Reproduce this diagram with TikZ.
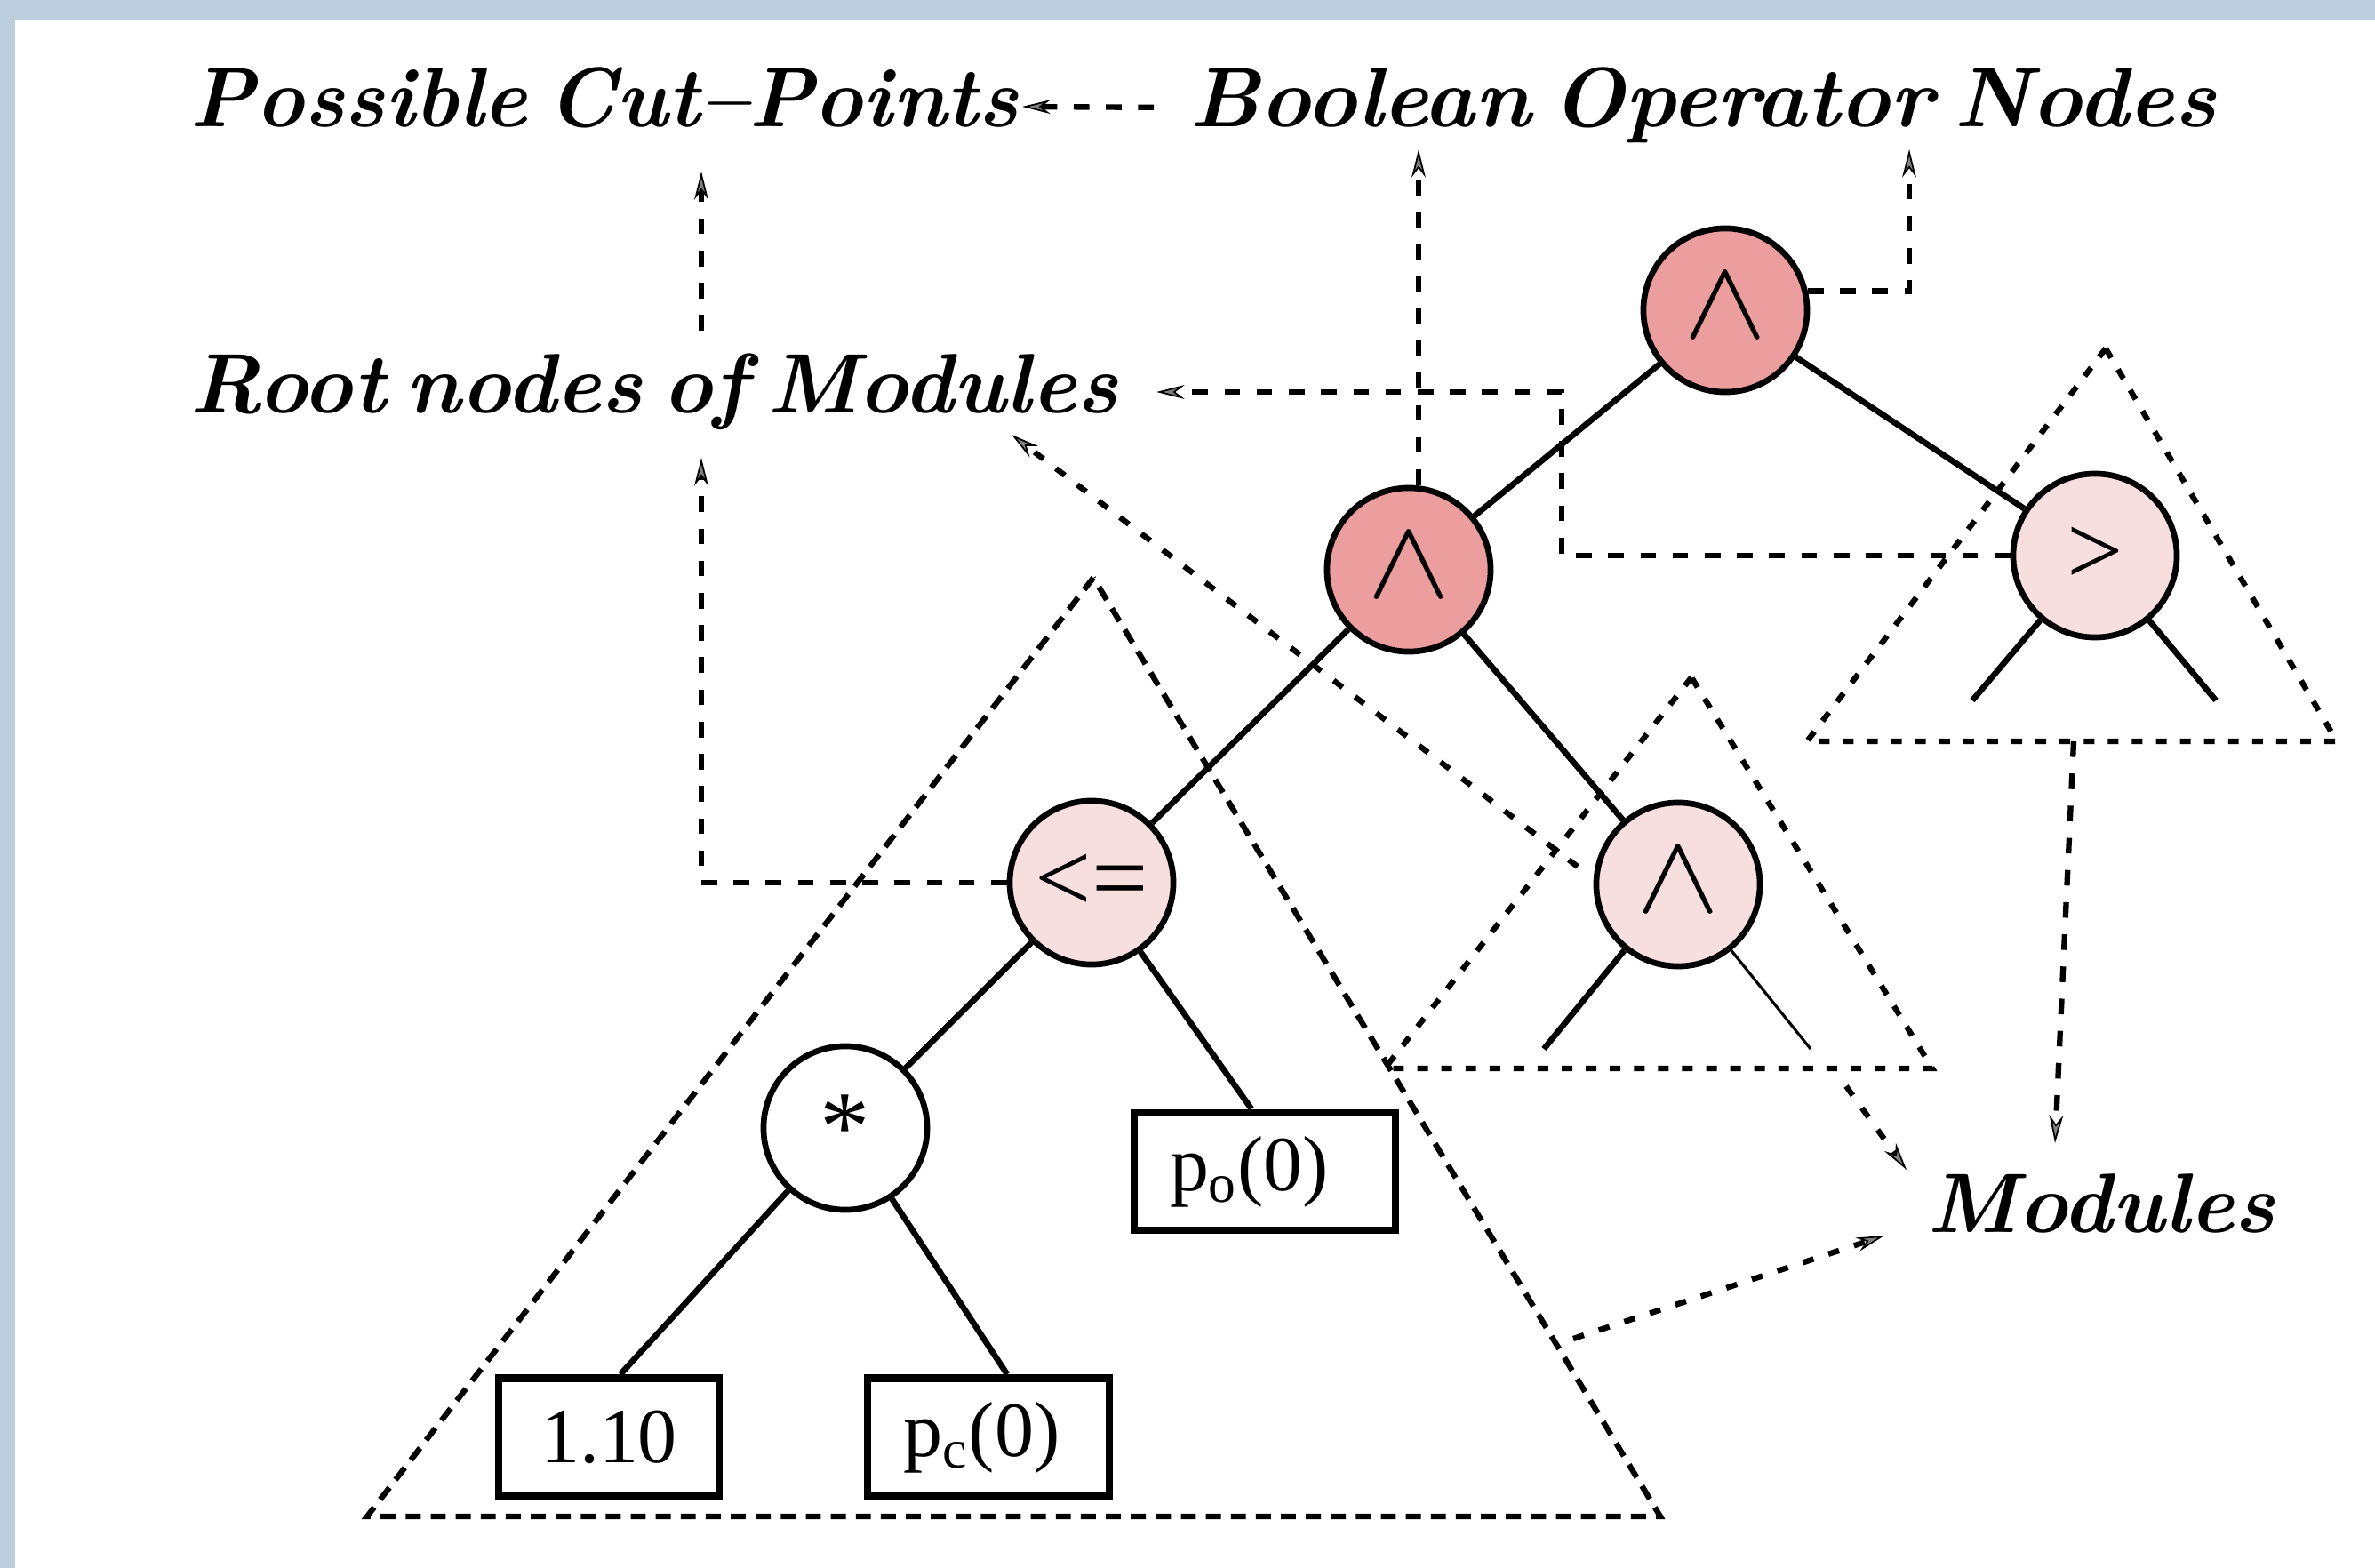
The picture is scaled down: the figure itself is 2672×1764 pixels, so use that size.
\documentclass[tikz,border=0pt]{standalone}
\usepackage{fontspec}
\usepackage{graphicx}
\newfontfamily\tms{Liberation Serif}
\usetikzlibrary{arrows.meta,calc}
\definecolor{band}{HTML}{BDCEDF}
\definecolor{darkpink}{HTML}{EC9D9E}
\definecolor{lightpink}{HTML}{F7DEDF}
\newcommand{\fitlab}[2]{\resizebox{#1}{\height}{\spaceskip=0.24em\relax #2}}
\newcommand{\opwedge}{\raisebox{0.1cm}{\scalebox{1.6}[1.45]{$\wedge$}}}
\begin{document}
\begin{tikzpicture}[x=0.01cm,y=-0.01cm,
  op/.style={circle,draw,line width=1.9pt,minimum size=1.84cm,inner sep=0pt,font=\tms\fontsize{32}{34}\selectfont},
  wedgeop/.style={op,font=\fontsize{24.88}{28}\selectfont},
  leaf/.style={rectangle,draw,line width=2.5pt,inner sep=0pt,minimum height=1.32cm,font=\tms\fontsize{25}{28}\selectfont},
  lbl/.style={anchor=base west,inner sep=0pt,font=\fontsize{27}{30}\selectfont\bfseries\itshape},
  edge/.style={line width=1.9pt},
  thinstub/.style={line width=0.9pt},
  bigtri/.style={line width=1.8pt,dash pattern=on 4.8pt off 3.2pt},
  modtri/.style={line width=1.8pt,dash pattern=on 3.4pt off 4.3pt},
  conn/.style={line width=1.8pt,dash pattern=on 5pt off 5.3pt},
  dotconn/.style={line width=1.8pt,dash pattern=on 3.6pt off 5pt},
  tip/.style={-{Stealth[length=9pt,width=4.5pt,line width=0.5pt,fill=gray]}}
]
\useasboundingbox (0,0) rectangle (2672,1764);
\fill[white] (0,0) rectangle (2672,1764);
\fill[band] (0,0) rectangle (2672,22);
\fill[band] (0,0) rectangle (17,1764);

% labels
\node[lbl] (pcp) at (213,143) {\fitlab{9.32cm}{Possible Cut–Points}};
\node[lbl] (bon) at (1338,143) {\fitlab{11.54cm}{Boolean Operator Nodes}};
\node[lbl] (rnm) at (213,465) {\fitlab{10.43cm}{Root nodes of Modules}};
\node[lbl] (mods) at (2168,1386) {\fitlab{3.91cm}{Modules}};

% module triangles
\draw[bigtri] (1230,650) -- (413,1706) -- (1868,1706) -- cycle;
\draw[modtri] (1903,762) -- (1558,1202) -- (2174,1202) -- cycle;
\draw[modtri] (2369,392) -- (2033,834) -- (2629,834) -- cycle;

% tree nodes
\node[wedgeop,fill=darkpink] (t) at (1941,349) {\opwedge};
\node[wedgeop,fill=darkpink] (m) at (1585,641) {\opwedge};
\node[op,fill=lightpink] (gt) at (2357,625) {>};
\node[op,fill=lightpink] (le) at (1228,993) {<=};
\node[wedgeop,fill=lightpink] (lo) at (1888,995) {\opwedge};
\node[op,fill=white] (st) at (951,1269) {*};
\node[leaf,minimum width=2.94cm] (po) at (1423,1318) {p\textsubscript{o}(0)\hspace*{0.35cm}};
\node[leaf,minimum width=2.48cm,minimum height=1.33cm] (one) at (685,1617) {1.10};
\node[leaf,minimum width=2.72cm,minimum height=1.33cm] (pc) at (1112,1617) {p\textsubscript{c}(0)\hspace*{0.15cm}};

% tree edges
\draw[edge] (t) -- (m);
\draw[edge] (t) -- (gt);
\draw[edge] (m) -- (le);
\draw[edge] (m) -- (lo);
\draw[edge] (le) -- (st);
\draw[edge] (le) -- ($(po.north)+(-15,0)$);
\draw[edge] (st) -- ($(one.north)+(13,0)$);
\draw[edge] (st) -- ($(pc.north)+(21,0)$);
\coordinate (gtl) at (2219,788);
\coordinate (gtr) at (2493,788);
\coordinate (lol) at (1737,1180);
\coordinate (lor) at (2037,1180);
\draw[edge] (gt) -- (gtl);
\draw[edge] (gt) -- (gtr);
\draw[edge] (lo) -- (lol);
\draw[thinstub] (lo) -- (lor);

% annotation connectors
\coordinate (a1) at (789,515);
\draw[conn,tip] (le.west) -| (a1);
\coordinate (a2s) at (789,372);
\coordinate (a2) at (789,193);
\draw[conn,tip] (a2s) -- (a2);
\coordinate (a3) at (1596,168);
\draw[conn,tip] (m.north -| a3) -- (a3);
\coordinate (a4) at (2148,168);
\draw[conn,tip] (t.13) -| (a4);
\coordinate (a5) at (1301,441);
\draw[conn,tip] (gt.west) -| (1757,441) -- (a5);
\coordinate (a6s) at (1775,975);
\coordinate (a6) at (1138,489);
\draw[dotconn,tip] (a6s) -- (a6);
\coordinate (a7s) at (2333,834);
\coordinate (a7) at (2312,1286);
\draw[conn,tip] (a7s) -- (a7);
\coordinate (a8s) at (2077,1222);
\coordinate (a8) at (2145,1316);
\draw[dotconn,tip] (a8s) -- (a8);
\coordinate (a9s) at (1770,1506);
\coordinate (a9) at (2120,1390);
\draw[dotconn,tip] (a9s) -- (a9);
\coordinate (a10) at (1150,120);
\draw[conn,tip] ($(bon.west)+(-40,2)$) -- (a10);
\end{tikzpicture}
\end{document}
